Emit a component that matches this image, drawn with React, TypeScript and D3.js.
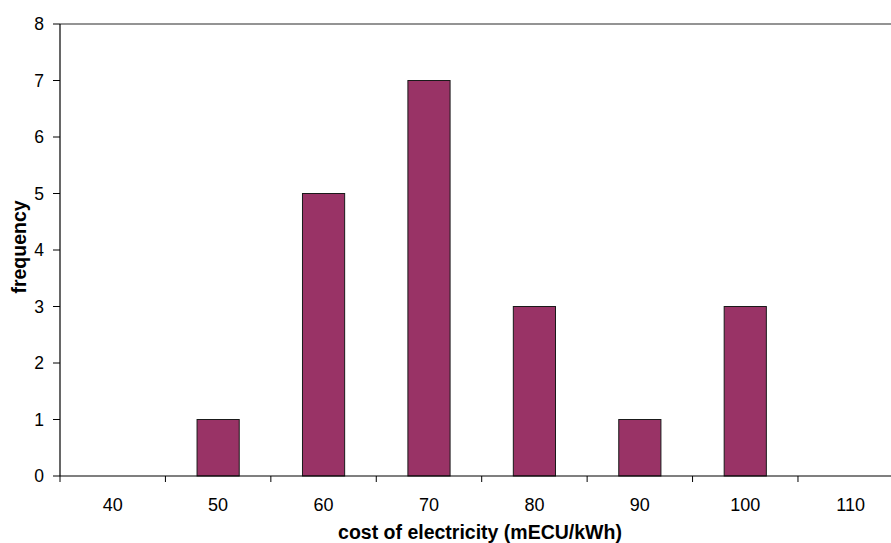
import React from "react";
import * as d3 from "d3";

const categories = ["40", "50", "60", "70", "80", "90", "100", "110"];
const frequencies = [0, 1, 5, 7, 3, 1, 3, 0];
const yTicks = [0, 1, 2, 3, 4, 5, 6, 7, 8];

export default function App() {
  const W = 891, H = 543;
  const left = 60, right = 903.4, top = 24, bottom = 476;
  const x = d3.scaleBand<string>().domain(categories).range([left, right]).padding(0);
  const y = d3.scaleLinear().domain([0, 8]).range([bottom, top]);
  const bw = x.bandwidth();
  const barW = bw * 0.4;
  const font = "'Liberation Sans', Arial, sans-serif";
  const boundaries = categories.map((c) => x(c)!).concat([right]);

  return (
    <svg width={W} height={H} style={{ position: "absolute", left: 0, top: 0, background: "#fff" }} fontFamily={font}>
      <line x1={left} x2={right} y1={top} y2={top} stroke="#707070" strokeWidth={1.5} />
      {categories.map((c, i) =>
        frequencies[i] > 0 ? (
          <rect
            key={c}
            x={x(c)! + (bw - barW) / 2}
            y={y(frequencies[i])}
            width={barW}
            height={y(0) - y(frequencies[i])}
            fill="#993366"
            stroke="#1a1a1a"
            strokeWidth={1}
          />
        ) : null
      )}
      <line x1={left} x2={left} y1={top} y2={bottom} stroke="#000" strokeWidth={1.2} />
      {yTicks.map((t) => (
        <g key={t}>
          <line x1={left - 7} x2={left} y1={y(t)} y2={y(t)} stroke="#000" />
          <text x={44} y={y(t)} dy="0.35em" textAnchor="end" fontSize={17.5}>
            {t}
          </text>
        </g>
      ))}
      <line x1={left} x2={right} y1={bottom} y2={bottom} stroke="#000" strokeWidth={1.2} />
      {boundaries.map((b, i) => (
        <line key={i} x1={b} x2={b} y1={bottom} y2={bottom + 6} stroke="#000" />
      ))}
      {categories.map((c) => (
        <text key={c} x={x(c)! + bw / 2} y={510.5} textAnchor="middle" fontSize={18}>
          {c}
        </text>
      ))}
      <text x={480} y={539} textAnchor="middle" fontSize={19.5} fontWeight="bold">
        cost of electricity (mECU/kWh)
      </text>
      <text
        transform={`translate(26, ${247}) rotate(-90)`}
        textAnchor="middle"
        fontSize={19.5}
        fontWeight="bold"
      >
        frequency
      </text>
    </svg>
  );
}
